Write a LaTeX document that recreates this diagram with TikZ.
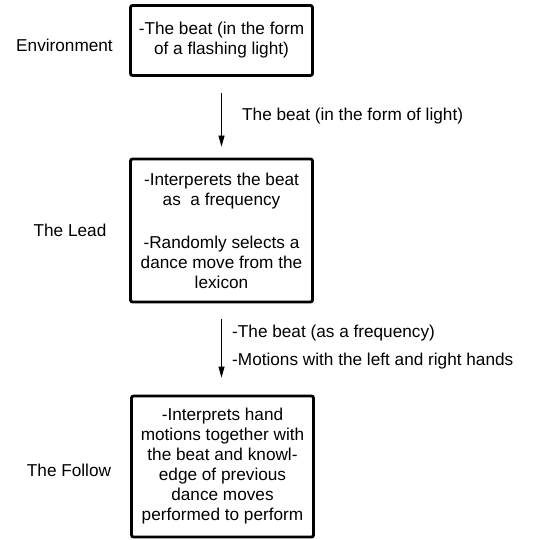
\documentclass[tikz,border=0pt]{standalone}
\usepackage{fontspec}
\setmainfont{Liberation Sans}
\usetikzlibrary{arrows.meta}
\begin{document}
\begin{tikzpicture}[x=1pt,y=-1pt,
  every node/.style={font=\fontsize{17.2}{20}\selectfont, inner sep=0pt},
  stagebox/.style={draw=black, line width=2.8pt, rounded corners=2pt, minimum width=182pt, align=center},
  sidelabel/.style={anchor=center},
  flowarrow/.style={line width=0.8pt, -{Triangle[length=11pt,width=6pt]}},
  arrowlabel/.style={anchor=west}
]
\useasboundingbox (0,0) rectangle (532,540);
\node[stagebox, minimum height=70pt] (b1) at (221.5,40.5) {-The beat (in the form\\of a flashing light)};
\node[stagebox, minimum height=143pt] (b2) at (221.5,230.5) {-Interperets the beat\\as\ \ a frequency\\[23pt]-Randomly selects a\\dance move from the\\lexicon};
\node[stagebox, minimum height=141pt] (b3) at (222.5,466.5) {-Interprets hand\\motions together with\\the beat and knowl-\\edge of previous\\dance moves\\performed to perform};
\node[sidelabel] (s1) at (64.5,45) {Environment};
\node[sidelabel] (s2) at (70,230) {The Lead};
\node[sidelabel] (s3) at (69,470) {The Follow};
\draw[flowarrow, shorten <=16pt, shorten >=11pt] (b1.south) -- (b2.north);
\draw[flowarrow, shorten <=16pt, shorten >=17pt] (b2.south) -- (b3.north -| b2.south);
\node[arrowlabel] (l1) at (242,116) {The beat (in the form of light)};
\node[arrowlabel] (l2) at (232,333) {-The beat (as a frequency)};
\node[arrowlabel] (l3) at (232,361) {-Motions with the left and right hands};
\end{tikzpicture}
\end{document}
